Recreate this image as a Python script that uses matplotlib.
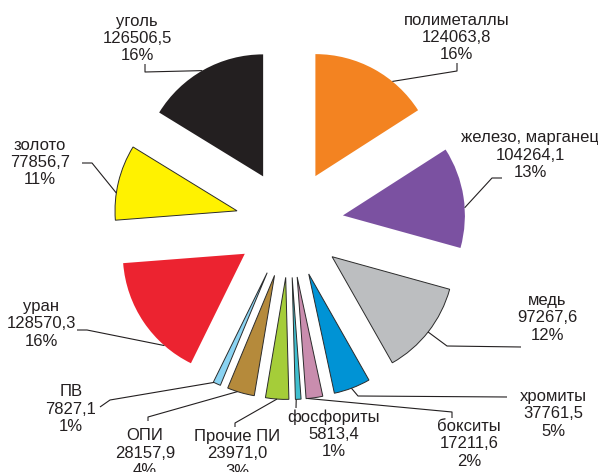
import numpy as np
import matplotlib
matplotlib.use("Agg")
import matplotlib.pyplot as plt

# ---- data ----
names = ["полиметаллы", "железо, марганец", "медь", "хромиты", "бокситы",
         "фосфориты", "Прочие ПИ", "ОПИ", "ПВ", "уран", "золото", "уголь"]
values = [124063.8, 104264.1, 97267.6, 37761.5, 17211.6,
          5813.4, 23971.0, 28157.9, 7827.1, 128570.3, 77856.7, 126506.5]
value_labels = ["124063,8", "104264,1", "97267,6", "37761,5", "17211,6",
                "5813,4", "23971,0", "28157,9", "7827,1", "128570,3", "77856,7", "126506,5"]
pct_labels = ["16%", "13%", "12%", "5%", "2%", "1%", "3%", "4%", "1%", "16%", "11%", "16%"]

# ---- styles ----
colors = ["#F38321", "#7B51A1", "#BCBEC0", "#0093D5", "#C98DAE", "#3FBFCF",
          "#A5CD39", "#B58A3B", "#8AD3F2", "#EC2330", "#FFF200", "#231F20"]
outlined = [False, False, True, True, True, True, True, True, True, False, True, False]
TXT = "#231F20"

W, H = 598, 472
fig = plt.figure(figsize=(W / 100, H / 100), dpi=100)
ax = fig.add_axes([0, 0, 1, 1])

def Y(y):
    return H - y

cx, cy, R = 289.5, Y(223.5), 122.0
EXPL = 54.0  # matplotlib explode is in data units
wedges, _ = ax.pie(values, colors=colors, startangle=90, counterclock=False,
                   explode=[EXPL] * len(values), radius=R, center=(cx, cy),
                   wedgeprops=dict(linewidth=0.7, edgecolor="none"))
for w, o in zip(wedges, outlined):
    if o:
        w.set_edgecolor("#2b2b2b")
ax.set_xlim(0, W)
ax.set_ylim(0, H)
ax.set_aspect("equal")
ax.axis("off")

# ---- label layout (screen px) ----
text_pos = [(456.5, 37.5), (530, 155), (547, 318), (553, 414), (469, 444),
            (334, 434), (237, 454), (145, 453), (71, 409), (41.5, 324),
            (40, 162.5), (137, 38.5)]
leaders = [[(457, 63), (457, 71)], [(502, 178), (492, 178)], [(521, 347), (447, 346)],
           [(507, 397), (358, 396)], [(452, 418), (452, 412)], [(296, 408)],
           [(235, 427), (235, 423)], [(148, 421), (148, 417)], [(100, 407), (110, 400)],
           [(77, 330), (87, 330)], [(82, 163), (92, 163)], [(145, 64), (145, 72)]]
anchor_ang = [50.9, 3.6, -38.1, -69.5, -85.0, -88.1, -94.1, -107.7, -115.9,
              -131.2, 171.6, 119.9]

for i, w in enumerate(wedges):
    tx, ty = text_pos[i]
    ax.text(tx, Y(ty), f"{names[i]}\n{value_labels[i]}\n{pct_labels[i]}",
            ha="center", va="center", multialignment="center",
            fontsize=12, family=["Liberation Sans", "DejaVu Sans"], color=TXT,
            linespacing=1.17)
    a = np.deg2rad(anchor_ang[i])
    ax0, ay0 = w.center
    axp = ax0 + w.r * np.cos(a)
    ayp = ay0 + w.r * np.sin(a)
    xs = [p[0] for p in leaders[i]] + [axp]
    ys = [Y(p[1]) for p in leaders[i]] + [ayp]
    ax.plot(xs, ys, color="#231F20", lw=0.8, solid_capstyle="butt")

fig.savefig("out.png", dpi=100)
